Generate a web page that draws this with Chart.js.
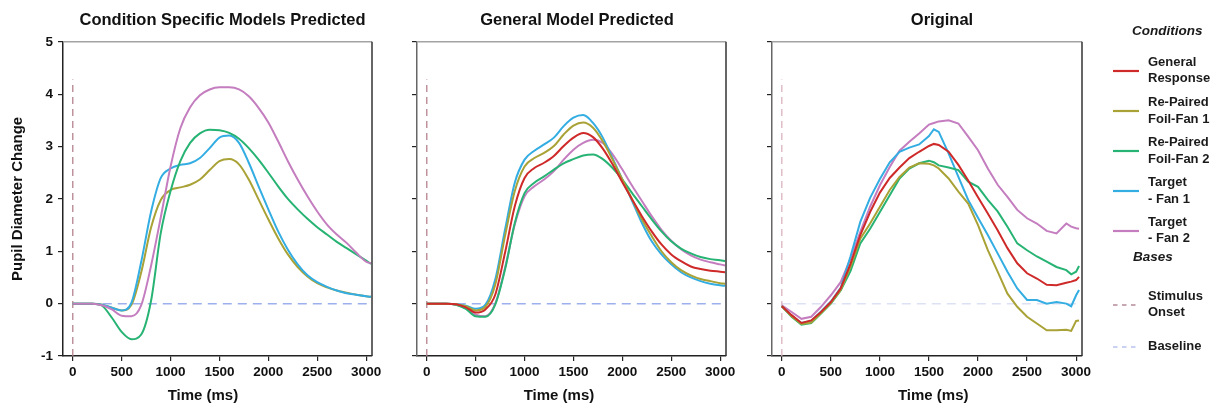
<!DOCTYPE html>
<html>
<head>
<meta charset="utf-8">
<script src="https://cdn.jsdelivr.net/npm/chart.js@4.4.1/dist/chart.umd.min.js"></script>
<style>
  body { margin: 0; background: #fff; width: 1213px; height: 405px; overflow: hidden; position: relative;
         font-family: "Liberation Sans", Arial, sans-serif; }
  canvas { position: absolute; top: 0; }
  .lg { position: absolute; color: #1a1a1a; font-weight: bold; font-size: 13px; line-height: 16.6px; white-space: nowrap; z-index: 2; }
  .lg.head { font-style: italic; font-size: 13.5px; }
  .swatch { position: absolute; z-index: 2; }
</style>
</head>
<body>
<canvas id="p1" width="445" height="405" style="left:0px"></canvas>
<canvas id="p2" width="374" height="405" style="left:390px"></canvas>
<canvas id="p3" width="394" height="405" style="left:745px"></canvas>
<div id="legend"></div>
<script>
// time axes (ms)
const timeModel = [0,100,200,300,400,500,600,700,800,900,1000,1100,1200,1300,1400,1500,1600,1700,1800,1900,2000,2100,2200,2300,2400,2500,2600,2700,2800,2900,3000,3050];
const timeOrig  = [0,100,200,300,400,500,600,700,800,900,1000,1100,1200,1300,1400,1500,1550,1600,1700,1800,1900,2000,2100,2200,2300,2400,2500,2600,2700,2800,2900,2950,3000,3030];
const xTicks = [0,500,1000,1500,2000,2500,3000];
const yTicks = [-1,0,1,2,3,4,5];

const seriesNames = ['General Response','Re-Paired Foil-Fan 1','Re-Paired Foil-Fan 2','Target - Fan 1','Target - Fan 2'];
const legendLines = [['General','Response'],['Re-Paired','Foil-Fan 1'],['Re-Paired','Foil-Fan 2'],['Target','- Fan 1'],['Target','- Fan 2']];
const colors = ['#cf2a2a','#a9a236','#27b373','#33ade2','#c47dbf'];

// condition specific models predicted
const specFoil1   = [0,0,0,-0.02,-0.08,-0.13,-0.02,0.60,1.45,1.98,2.17,2.22,2.27,2.37,2.55,2.72,2.76,2.66,2.37,1.99,1.61,1.25,0.94,0.70,0.52,0.39,0.31,0.25,0.21,0.17,0.14,0.13];
const specFoil2   = [0,0,0,-0.04,-0.27,-0.54,-0.68,-0.59,0.05,1.35,2.15,2.72,3.07,3.25,3.32,3.31,3.26,3.15,2.97,2.75,2.50,2.24,2.00,1.80,1.62,1.46,1.32,1.18,1.06,0.94,0.82,0.76];
const specTarget1 = [0,0,0,-0.02,-0.08,-0.13,0.02,0.80,1.75,2.40,2.58,2.65,2.68,2.78,2.97,3.17,3.21,3.07,2.69,2.24,1.80,1.38,1.03,0.75,0.54,0.41,0.32,0.25,0.20,0.17,0.14,0.13];
const specTarget2 = [0,0,0,-0.03,-0.11,-0.23,-0.24,-0.03,0.72,1.65,2.62,3.35,3.75,3.98,4.09,4.13,4.13,4.09,3.96,3.74,3.46,3.10,2.72,2.37,2.05,1.76,1.51,1.32,1.16,0.97,0.80,0.77];

// general model predicted
const genResponse = [0,0,0,-0.01,-0.07,-0.17,-0.11,0.17,0.97,1.86,2.40,2.59,2.69,2.82,3.01,3.17,3.26,3.18,2.96,2.66,2.32,1.99,1.67,1.38,1.13,0.94,0.81,0.71,0.66,0.63,0.61,0.60];
const genFoil1    = [0,0,0,-0.01,-0.05,-0.13,-0.06,0.36,1.29,2.15,2.62,2.78,2.88,3.01,3.23,3.40,3.46,3.36,3.10,2.75,2.37,1.99,1.61,1.29,1.00,0.79,0.64,0.54,0.47,0.43,0.39,0.38];
const genFoil2    = [0,0,0,-0.02,-0.10,-0.24,-0.25,-0.02,0.65,1.54,2.11,2.31,2.43,2.56,2.68,2.76,2.83,2.85,2.76,2.59,2.37,2.11,1.86,1.61,1.38,1.19,1.05,0.96,0.89,0.85,0.83,0.81];
const genTarget1  = [0,0,0,-0.01,-0.04,-0.10,-0.02,0.46,1.41,2.31,2.75,2.92,3.04,3.17,3.39,3.55,3.60,3.45,3.17,2.78,2.37,1.96,1.54,1.19,0.94,0.75,0.60,0.50,0.43,0.38,0.35,0.34];
const genTarget2  = [0,0,0,-0.02,-0.09,-0.21,-0.24,0.00,0.68,1.51,2.05,2.24,2.37,2.53,2.75,2.94,3.07,3.13,3.07,2.85,2.56,2.25,1.96,1.67,1.41,1.20,1.04,0.92,0.84,0.79,0.75,0.73];

// original data
const origResponse = [-0.05,-0.22,-0.37,-0.32,-0.16,0.03,0.29,0.76,1.31,1.75,2.12,2.40,2.60,2.78,2.90,3.01,3.05,3.03,2.90,2.65,2.35,2.03,1.72,1.40,1.06,0.77,0.58,0.48,0.36,0.35,0.40,0.42,0.45,0.51];
const origFoil1    = [-0.05,-0.24,-0.39,-0.36,-0.18,0.01,0.26,0.70,1.24,1.53,1.85,2.17,2.42,2.60,2.68,2.67,2.64,2.58,2.39,2.14,1.91,1.50,1.02,0.61,0.19,-0.06,-0.25,-0.38,-0.51,-0.51,-0.50,-0.52,-0.33,-0.32];
const origFoil2    = [-0.05,-0.25,-0.40,-0.37,-0.19,0.00,0.25,0.62,1.15,1.43,1.75,2.07,2.39,2.58,2.68,2.73,2.70,2.64,2.60,2.55,2.33,2.23,1.98,1.76,1.47,1.15,1.02,0.90,0.80,0.70,0.64,0.56,0.61,0.72];
const origTarget1  = [-0.05,-0.23,-0.37,-0.33,-0.15,0.04,0.30,0.90,1.56,2.02,2.38,2.70,2.90,2.98,3.04,3.20,3.33,3.28,2.87,2.42,1.98,1.64,1.31,0.96,0.61,0.29,0.07,0.07,0.00,0.03,0.00,-0.05,0.16,0.26];
const origTarget2  = [-0.03,-0.16,-0.29,-0.25,-0.06,0.16,0.41,0.86,1.37,1.85,2.26,2.61,2.92,3.09,3.25,3.42,3.45,3.48,3.50,3.44,3.19,2.93,2.58,2.27,2.04,1.79,1.63,1.53,1.39,1.34,1.53,1.47,1.44,1.43];

// reference lines
const onsetY = [-1, 4.28];
const baselineX = [0, 3060];

const FONT = '"Liberation Sans", Arial, sans-serif';

const framePlugin = {
  id: 'frame',
  afterDraw(chart) {
    const { ctx, chartArea: a } = chart;
    ctx.save();
    ctx.lineWidth = 1.5;
    ctx.strokeStyle = '#a3a3a3';
    ctx.beginPath(); ctx.moveTo(a.left, a.top); ctx.lineTo(a.right, a.top); ctx.stroke();
    ctx.strokeStyle = '#333';
    ctx.beginPath(); ctx.moveTo(a.right, a.top); ctx.lineTo(a.right, a.bottom); ctx.stroke();
    ctx.restore();
  }
};

function toPoints(xs, ys) {
  return xs.map((x, i) => ({ x: x, y: ys[i] }));
}

function makePanel(id, title, times, series, opts) {
  const datasets = series.map(s => ({
    data: toPoints(times, s.values),
    borderColor: colors[s.c],
    borderWidth: 2,
    pointRadius: 0,
    tension: opts.smooth ? 0.4 : 0,
    cubicInterpolationMode: opts.smooth ? 'monotone' : 'default',
    fill: false
  }));
  datasets.push({
    data: [{ x: 0, y: onsetY[0] }, { x: 0, y: onsetY[1] }],
    borderColor: opts.onsetColor, borderWidth: 1.3, borderDash: [7, 5], pointRadius: 0
  });
  datasets.push({
    data: [{ x: baselineX[0], y: 0 }, { x: baselineX[1], y: 0 }],
    borderColor: opts.baseColor, borderWidth: 1.5, borderDash: [9, 6], pointRadius: 0
  });

  new Chart(document.getElementById(id), {
    type: 'line',
    data: { datasets: datasets },
    plugins: [framePlugin],
    options: {
      responsive: false,
      animation: false,
      events: [],
      layout: { padding: 0 },
      plugins: {
        legend: { display: false },
        tooltip: { enabled: false },
        title: {
          display: true, text: title, color: '#111',
          font: { family: FONT, size: 16.5, weight: 'bold' },
          padding: { top: 11, bottom: 11 }
        }
      },
      scales: {
        x: {
          type: 'linear', min: -100, max: 3060,
          afterBuildTicks: s => { s.ticks = xTicks.map(v => ({ value: v })); },
          afterFit: s => { s.height = 49; },
          ticks: { color: '#111', padding: 3, font: { family: FONT, size: 13.5, weight: 'bold' }, callback: v => String(v), maxRotation: 0 },
          grid: { drawOnChartArea: false, drawTicks: true, tickLength: 5, color: '#222', lineWidth: 1.2 },
          border: { color: '#222', width: 1.5 },
          // padded with spaces: the reference centres this label off the plot centre
          title: { display: true, text: opts.xTitle, color: '#111', font: { family: FONT, size: 15, weight: 'bold' }, padding: { top: 0, bottom: 0 } }
        },
        y: {
          type: 'linear', min: -1, max: 5,
          afterBuildTicks: s => { s.ticks = yTicks.map(v => ({ value: v })); },
          afterFit: s => { s.width = opts.yWidth; },
          ticks: { display: opts.yLabels, color: '#111', padding: 5, font: { family: FONT, size: 13.5, weight: 'bold' }, callback: v => String(v) },
          grid: { drawOnChartArea: false, drawTicks: true, tickLength: 5, color: '#222', lineWidth: 1.2 },
          border: { color: opts.yAxisColor, width: 1.5 },
          title: { display: opts.yLabels, text: 'Pupil Diameter Change', color: '#111', font: { family: FONT, size: 15, weight: 'bold' }, padding: { top: 9, bottom: 0 } }
        },
        // empty spacer on the right so the plot area ends where the reference does
        spacer: {
          type: 'linear', position: 'right', display: true,
          afterFit: s => { s.width = opts.rightPad; },
          ticks: { display: false },
          grid: { display: false, drawTicks: false },
          border: { display: false }
        }
      }
    }
  });
}

makePanel('p1', 'Condition Specific Models Predicted', timeModel, [
  { values: specTarget2, c: 4 },
  { values: specFoil2, c: 2 },
  { values: specTarget1, c: 3 },
  { values: specFoil1, c: 1 }
], { smooth: true, yWidth: 63, rightPad: 73, yLabels: true, yAxisColor: '#222',
     xTitle: 'Time (ms)       ', onsetColor: '#b5838f', baseColor: '#9db0ee' });

makePanel('p2', 'General Model Predicted', timeModel, [
  { values: genResponse, c: 0 },
  { values: genFoil1, c: 1 },
  { values: genFoil2, c: 2 },
  { values: genTarget1, c: 3 },
  { values: genTarget2, c: 4 }
], { smooth: true, yWidth: 27, rightPad: 38, yLabels: false, yAxisColor: '#666',
     xTitle: 'Time (ms)      ', onsetColor: '#b5838f', baseColor: '#9db0ee' });

makePanel('p3', 'Original', timeOrig, [
  { values: origResponse, c: 0 },
  { values: origFoil1, c: 1 },
  { values: origFoil2, c: 2 },
  { values: origTarget1, c: 3 },
  { values: origTarget2, c: 4 }
], { smooth: false, yWidth: 27, rightPad: 57, yLabels: false, yAxisColor: '#666',
     xTitle: '   Time (ms)', onsetColor: '#dcb3be', baseColor: '#dde1f4' });

// legend on the right
const legend = document.getElementById('legend');
function addText(lines, left, centerY, cls) {
  const d = document.createElement('div');
  d.className = 'lg' + (cls ? ' ' + cls : '');
  d.innerHTML = lines.join('<br>');
  d.style.left = left + 'px';
  d.style.top = (centerY - lines.length * 8.3) + 'px';
  legend.appendChild(d);
}
function addSwatch(color, centerY, dash) {
  const s = document.createElementNS('http://www.w3.org/2000/svg', 'svg');
  s.setAttribute('class', 'swatch');
  s.setAttribute('width', '26'); s.setAttribute('height', '6');
  s.style.left = '1113px'; s.style.top = (centerY - 3) + 'px';
  s.innerHTML = '<line x1="0" y1="3" x2="26" y2="3" stroke="' + color + '" stroke-width="' + (dash ? 1.5 : 2.2) + '"' +
    (dash ? ' stroke-dasharray="4.5,4.5"' : '') + '/>';
  legend.appendChild(s);
}
addText(['Conditions'], 1132, 31.5, 'head');
const itemY = [70.5, 111, 151, 191, 230.5];
seriesNames.forEach((name, i) => {
  addSwatch(colors[i], itemY[i], false);
  addText(legendLines[i], 1148, itemY[i]);
});
addText(['Bases'], 1133, 257.5, 'head');
addSwatch('#b58a98', 305, true);
addText(['Stimulus', 'Onset'], 1148, 304.5);
addSwatch('#b8c4f0', 346.5, true);
addText(['Baseline'], 1148, 346.5);
</script>
</body>
</html>
